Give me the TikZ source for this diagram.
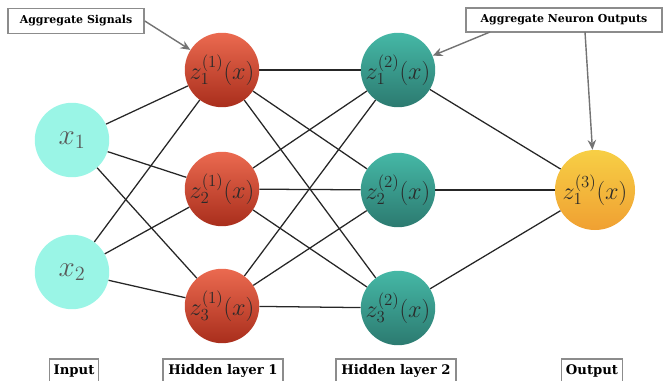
\documentclass[tikz,border=0pt]{standalone}
\usepackage{fontspec}
\newfontfamily\labelfont{DejaVu Serif}
\usetikzlibrary{arrows.meta}
\definecolor{inputcol}{HTML}{9AF5E6}
\definecolor{redtop}{HTML}{EB6A50}
\definecolor{redbot}{HTML}{A92E1C}
\definecolor{tealtop}{HTML}{45B8A6}
\definecolor{tealbot}{HTML}{2C7A70}
\definecolor{yeltop}{HTML}{F7CF45}
\definecolor{yelbot}{HTML}{F0A032}
\definecolor{numcol}{HTML}{2A2A2A}
\tikzset{
    neuron/.style={circle, minimum size=1.86cm, inner sep=0pt, text=numcol, font=\LARGE},
    inneuron/.style={neuron, fill=inputcol, text=black!65, font=\huge},
    hidone/.style={neuron, top color=redtop, bottom color=redbot},
    hidtwo/.style={neuron, top color=tealtop, bottom color=tealbot},
    outneuron/.style={neuron, minimum size=2cm, top color=yeltop, bottom color=yelbot},
    tagbox/.style={draw=black!45, line width=1.1pt, fill=white, inner sep=3pt, font=\labelfont\bfseries\fontsize{7.8}{9}\selectfont},
    layertag/.style={tagbox, minimum height=0.6cm, font=\labelfont\bfseries\fontsize{9.4}{11}\selectfont},
    link/.style={black!85, line width=0.9pt},
    pointer/.style={-{Stealth[length=7pt,width=6pt]}, black!55, line width=1pt}
}
\begin{document}
\begin{tikzpicture}[x=0.025cm, y=-0.025cm]
    \useasboundingbox (0,0) rectangle (664,381);
    % input layer
    \node (x1) at (72,140) [inneuron] {$x_1$};
    \node (x2) at (72,272) [inneuron] {$x_2$};
    % first hidden layer
    \node (h11) at (222,70) [hidone] {$z_1^{(1)}(x)$};
    \node (h12) at (222,189) [hidone] {$z_2^{(1)}(x)$};
    \node (h13) at (222,306) [hidone] {$z_3^{(1)}(x)$};
    % second hidden layer
    \node (h21) at (398,70) [hidtwo] {$z_1^{(2)}(x)$};
    \node (h22) at (398,190) [hidtwo] {$z_2^{(2)}(x)$};
    \node (h23) at (398,308) [hidtwo] {$z_3^{(2)}(x)$};
    % output layer
    \node (o1) at (595,190) [outneuron] {$z_1^{(3)}(x)$};
    % connections
    \draw[link] (x1)--(h11);
    \draw[link] (x1)--(h12);
    \draw[link] (x1)--(h13);
    \draw[link] (x2)--(h11);
    \draw[link] (x2)--(h12);
    \draw[link] (x2)--(h13);
    \draw[link] (h11)--(h21);
    \draw[link] (h11)--(h22);
    \draw[link] (h11)--(h23);
    \draw[link] (h12)--(h21);
    \draw[link] (h12)--(h22);
    \draw[link] (h12)--(h23);
    \draw[link] (h13)--(h21);
    \draw[link] (h13)--(h22);
    \draw[link] (h13)--(h23);
    \draw[link] (h21)--(o1);
    \draw[link] (h22)--(o1);
    \draw[link] (h23)--(o1);
    % annotations
    \node (sig) at (76,21) [tagbox, minimum width=3.4cm, minimum height=0.62cm] {Aggregate Signals};
    \node (outs) at (564,20) [tagbox, minimum width=4.9cm, minimum height=0.6cm] {Aggregate Neuron Outputs};
    \coordinate (outsa) at (490,32);
    \coordinate (outsb) at (585,32);
    \draw[pointer] (sig.east)--(h11);
    \draw[pointer] (outsa)--(h21);
    \draw[pointer] (outsb)--(o1);
    % layer names
    \node (lin) at (74,371) [layertag, minimum width=1.2cm] {Input};
    \node (lh1) at (223,371) [layertag, minimum width=3cm] {Hidden layer 1};
    \node (lh2) at (396,371) [layertag, minimum width=3cm] {Hidden layer 2};
    \node (lout) at (592,371) [layertag, minimum width=1.45cm] {Output};
\end{tikzpicture}
\end{document}
